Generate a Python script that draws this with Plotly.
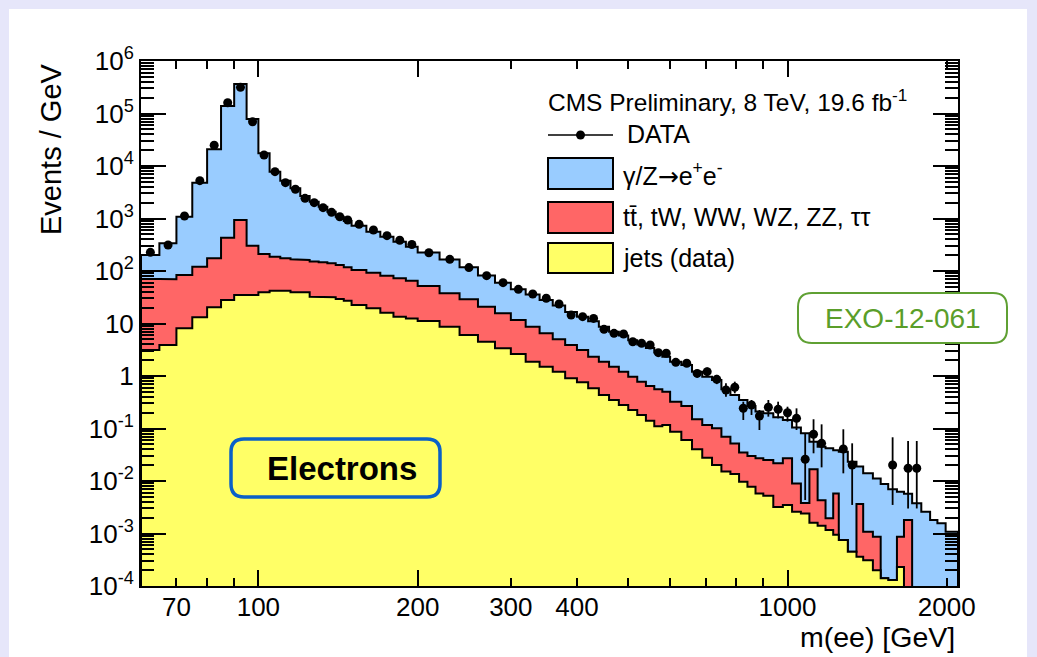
import plotly.graph_objects as go

W, H = 1037, 657
ML, MR, MT, MB = 141, 79, 61, 71
PW, PH = W - ML - MR, H - MT - MB

# ---------------- data ----------------
bin_edges = [60, 65, 70, 75, 80, 85, 90, 95, 100, 105, 110, 115, 120, 125, 130, 135, 140, 145, 150,
             160, 170, 180, 190, 200,
             220, 240, 260, 280, 300, 320, 340, 360, 380, 400, 420, 440, 460, 480, 500, 520, 540, 560, 580, 600,
             630, 660, 690, 720, 750, 780, 810, 840, 870, 900,
             940, 980, 1020, 1060, 1100, 1140, 1180,
             1220, 1250, 1300, 1350, 1390, 1450, 1500, 1550, 1610, 1660, 1720, 1790, 1860, 1920, 1990, 2100]

# top of full stack (gamma/Z -> ee + ttbar etc. + jets), Events/GeV
stack_top_dy = [202, 337, 1082, 4810, 20800, 139000, 365000, 78600, 17460, 7800, 5250, 3760, 2683, 2090,
                1680, 1349, 1082, 896, 730, 561, 450, 361, 290,
                225, 165, 118, 82, 60, 45, 35.5, 28, 22, 16.5, 13.5, 11, 8.7, 7.0, 5.9, 4.8, 4.0, 3.4, 2.8, 2.33,
                1.87, 1.62, 1.21, 0.97, 0.84, 0.557, 0.434, 0.349, 0.269, 0.21,
                0.195, 0.163, 0.145, 0.105, 0.081, 0.056, 0.045,
                0.042, 0.0386, 0.036, 0.0233, 0.0188, 0.014, 0.0112, 0.0088, 0.00695, 0.00627, 0.0057,
                0.00376, 0.0026, 0.0018, 0.00156, 0.00108]

# top of (ttbar, tW, WW, WZ, ZZ, tautau) + jets
stack_top_ttbar = [70.4, 70, 84, 121, 174, 431, 936, 303, 211, 187, 174, 167, 162, 151,
                   146, 140, 130, 118, 104, 93, 81.5, 72.5, 65.4,
                   52, 37.6, 28.9, 20.9, 15.6, 11.7, 8.7, 6.5, 5.0, 3.9, 3.13, 2.33, 1.87, 1.5, 1.21, 0.97, 0.78,
                   0.646, 0.557, 0.50,
                   0.324, 0.269, 0.15, 0.117, 0.101, 0.070, 0.052, 0.035, 0.030, 0.027,
                   0.025, 0.0217, 0.027, 0.009, 0.0038, 0.0167, 0.0043,
                   0.00195, 0.0058, 0.00075, 0.00045, 0.00365, 0.00108, 0.00087, 0.00014, 0.00013, 0.00087, 0.0018,
                   0, 0, 0, 0, 0]

# jets (data-driven)
stack_top_jets = [3.13, 3.9, 8.1, 13.1, 20.3, 28, 34.9, 34.9, 39.3, 42.2, 42.2, 39.3, 39.3, 32.4,
                  31.5, 31.5, 29.3, 27.2, 22.5, 19.5, 16.1, 13.5, 12.5,
                  11.2, 8.7, 6.04, 4.5, 3.37, 2.62, 1.87, 1.5, 1.21, 0.904, 0.76, 0.582, 0.434, 0.349, 0.28, 0.225,
                  0.181, 0.141, 0.11, 0.117,
                  0.087, 0.0604, 0.0401, 0.0278, 0.0202, 0.0151, 0.0136, 0.0097, 0.0078, 0.0058,
                  0.00525, 0.0032, 0.0035, 0.0026, 0.0024, 0.0016, 0.0014,
                  0.00117, 0.00095, 0.00075, 0.00045, 0.00036, 0.00031, 0.0002, 0.00014, 0.00013, 0.00023, 0,
                  0, 0, 0, 0, 0]

data_vals = [227, 313, 1116, 5250, 24800, 160600, 315000, 69800, 16200, 7800, 4810, 3600, 2420, 2003,
             1607, 1310, 1080, 936, 775, 604, 471, 385, 320,
             223, 167, 116, 81.5, 60, 44.8, 36.5, 30.2, 23.5, 14.5, 13.5, 12.5, 7.75, 6.5, 6.3, 4.5, 4.19,
             3.9, 2.78, 2.71,
             1.82, 1.75, 1.12, 1.21, 0.865, 0.54, 0.61, 0.243, 0.28, 0.173,
             0.254, 0.232, 0.2, 0.156, 0.0259, 0.0777, 0.0522,
             None, None, 0.0407, 0.0202, None, None, None, None, 0.0202, None, 0.0175,
             0.0175, None, None, None, None]

N0 = [None] * 42
data_err_top = N0 + [3.1, 2.08, 2.0, 1.32, 1.45, 1.05, 0.726, 0.78, 0.324, 0.349, 0.225,
                     0.349, 0.324, 0.26, 0.242, 0.081, 0.15, 0.12,
                     None, None, 0.0966, 0.0522, None, None, None, None, 0.068, None, 0.0578,
                     0.0578, None, None, None, None]
data_err_bottom = N0 + [2.35, 1.58, 1.52, 0.94, 1.0, 0.7, 0.404, 0.468, 0.145, 0.181, 0.0936,
                        0.168, 0.156, 0.135, 0.0936, 0.00434, 0.0337, 0.0182,
                        None, None, 0.014, 0.0035, None, None, None, None, 0.0035, None, 0.0030,
                        0.0030, None, None, None, None]

x_ticks = [70, 100, 200, 300, 400, 1000, 2000]
x_long_ticks = [100, 200, 1000]
x_minor = [80, 90, 500, 600, 700, 800, 900]
y_ticks = [1e-4, 1e-3, 1e-2, 1e-1, 1, 10, 1e2, 1e3, 1e4, 1e5, 1e6]
y_ticktext = ['10<sup>-4</sup>', '10<sup>-3</sup>', '10<sup>-2</sup>', '10<sup>-1</sup>', '1', '10',
              '10<sup>2</sup>', '10<sup>3</sup>', '10<sup>4</sup>', '10<sup>5</sup>', '10<sup>6</sup>']
y_minor = [m * 10.0 ** k for k in range(-4, 6) for m in range(2, 10)]

# ---------------- styling ----------------
FONT = 'Liberation Sans, Arial, Helvetica, sans-serif'
C_BLUE, C_RED, C_YEL = '#99ccff', '#ff6666', '#ffff66'
FLOOR = 1e-7
XR = [1.778151, 3.322219]


def px(x):
    return (x - ML) / PW


def py(y):
    return (H - MB - y) / PH


def step(edges, vals):
    xs, ys = [edges[0]], [FLOOR]
    for i, v in enumerate(vals):
        vv = v if v and v > 0 else FLOOR
        xs += [edges[i], edges[i + 1]]
        ys += [vv, vv]
    xs.append(edges[-1])
    ys.append(FLOOR)
    return xs, ys


fig = go.Figure()
for vals, col, name in [(stack_top_dy, C_BLUE, 'dy'), (stack_top_ttbar, C_RED, 'tt'),
                        (stack_top_jets, C_YEL, 'jets')]:
    xs, ys = step(bin_edges, vals)
    fig.add_trace(go.Scatter(x=xs, y=ys, mode='lines', fill='toself', fillcolor=col,
                             line=dict(color='black', width=2), name=name, showlegend=False,
                             hoverinfo='skip'))

cx, cy, ep, em = [], [], [], []
for i, v in enumerate(data_vals):
    if v is None:
        continue
    cx.append((bin_edges[i] + bin_edges[i + 1]) / 2)
    cy.append(v)
    hi, lo = data_err_top[i], data_err_bottom[i]
    ep.append(hi - v if hi is not None else 0)
    em.append(v - lo if lo is not None else 0)

fig.add_trace(go.Scatter(x=cx, y=cy, mode='markers', marker=dict(color='black', size=9),
                         error_y=dict(type='data', array=ep, arrayminus=em, color='black',
                                      thickness=1.8, width=0),
                         showlegend=False, cliponaxis=True))
# empty trace to activate overlay axis for long ticks
fig.add_trace(go.Scatter(x=[], y=[], xaxis='x2', showlegend=False))

shapes = []
# white panel on lavender page
shapes.append(dict(type='rect', xref='paper', yref='paper', x0=px(9), x1=px(1027), y0=py(H + 5), y1=py(9),
                   fillcolor='white', line=dict(width=0), layer='below'))


def rrect(x0, y0, x1, y1, r):
    def P(a, b):
        return f"{px(a):.5f},{py(b):.5f}"
    return (f"M {P(x0 + r, y0)} L {P(x1 - r, y0)} Q {P(x1, y0)} {P(x1, y0 + r)} "
            f"L {P(x1, y1 - r)} Q {P(x1, y1)} {P(x1 - r, y1)} L {P(x0 + r, y1)} "
            f"Q {P(x0, y1)} {P(x0, y1 - r)} L {P(x0, y0 + r)} Q {P(x0, y0)} {P(x0 + r, y0)} Z")


# legend boxes
for (y0, y1, col) in [(158, 189, C_BLUE), (202, 233, C_RED), (243, 273, C_YEL)]:
    shapes.append(dict(type='rect', xref='paper', yref='paper', x0=px(548), x1=px(613), y0=py(y1), y1=py(y0),
                       fillcolor=col, line=dict(color='black', width=2)))
shapes.append(dict(type='line', xref='paper', yref='paper', x0=px(548), x1=px(613), y0=py(135), y1=py(135),
                   line=dict(color='black', width=1.5)))
shapes.append(dict(type='circle', xref='paper', yref='paper', x0=px(576), x1=px(585), y0=py(139.5),
                   y1=py(130.5), fillcolor='black', line=dict(color='black', width=0)))
# EXO box
shapes.append(dict(type='path', xref='paper', yref='paper', path=rrect(798, 293, 1007, 343, 14),
                   line=dict(color='#5fa033', width=2), fillcolor='rgba(255,255,255,1)'))
# Electrons box
shapes.append(dict(type='path', xref='paper', yref='paper', path=rrect(231, 439, 440, 497, 13),
                   line=dict(color='#0a60c8', width=3.5), fillcolor='rgba(0,0,0,0)'))

ann = []


def text(x, y, s, size, xa='left', ya='middle', color='black', angle=0):
    ann.append(dict(x=px(x), y=py(y), xref='paper', yref='paper', text=s, showarrow=False,
                    xanchor=xa, yanchor=ya, textangle=angle,
                    font=dict(family=FONT, size=size, color=color)))


text(546, 101, 'CMS Preliminary, 8 TeV, 19.6 fb<sup>-1</sup>', 24.5)
text(625, 134, 'DATA', 25)
text(621, 174, "γ/Z<span style='font-family:DejaVu Sans'>→</span>e<sup>+</sup>e<sup>-</sup>", 25)
text(621, 217, 'tt\u0304, tW, WW, WZ, ZZ, ττ', 25)
text(621, 258, 'jets (data)', 25)
text(902.5, 318, 'EXO-12-061', 28, xa='center', color='#5a9e2a')
text(342, 468, '<b>Electrons</b>', 33, xa='center')
text(957, 637, 'm(ee) [GeV]', 28.5, xa='right')
text(51, 61, 'Events / GeV', 29, xa='center', ya='top', angle=-90)

axis_common = dict(showgrid=False, zeroline=False, ticks='inside', tickcolor='black', tickwidth=1.5,
                   showline=True, linecolor='black', linewidth=2, mirror='ticks',
                   tickfont=dict(family=FONT, size=26, color='black'))

fig.update_layout(
    width=W, height=H, autosize=False,
    margin=dict(l=ML, r=MR, t=MT, b=MB),
    paper_bgcolor='#e6e6fa', plot_bgcolor='white',
    showlegend=False, hovermode=False,
    shapes=shapes, annotations=ann,
    xaxis=dict(type='log', range=XR, tickmode='array', tickvals=x_ticks,
               ticktext=[str(v) for v in x_ticks], ticklen=8, ticklabelstandoff=-3,
               minor=dict(tickmode='array', tickvals=x_minor, ticks='inside', ticklen=8,
                          tickcolor='black', tickwidth=1.5),
               **axis_common),
    xaxis2=dict(type='log', range=XR, overlaying='x', anchor='y', side='bottom', tickmode='array',
                tickvals=x_long_ticks, ticks='inside', ticklen=16, tickwidth=1.5, tickcolor='black',
                showticklabels=False, showgrid=False, zeroline=False, showline=False, mirror='ticks'),
    yaxis=dict(type='log', range=[-4, 6], tickmode='array', tickvals=y_ticks, ticktext=y_ticktext,
               ticklen=25,
               minor=dict(tickmode='array', tickvals=y_minor, ticks='inside', ticklen=13,
                          tickcolor='black', tickwidth=1.5),
               **axis_common),
)

fig.write_html('out.html')
